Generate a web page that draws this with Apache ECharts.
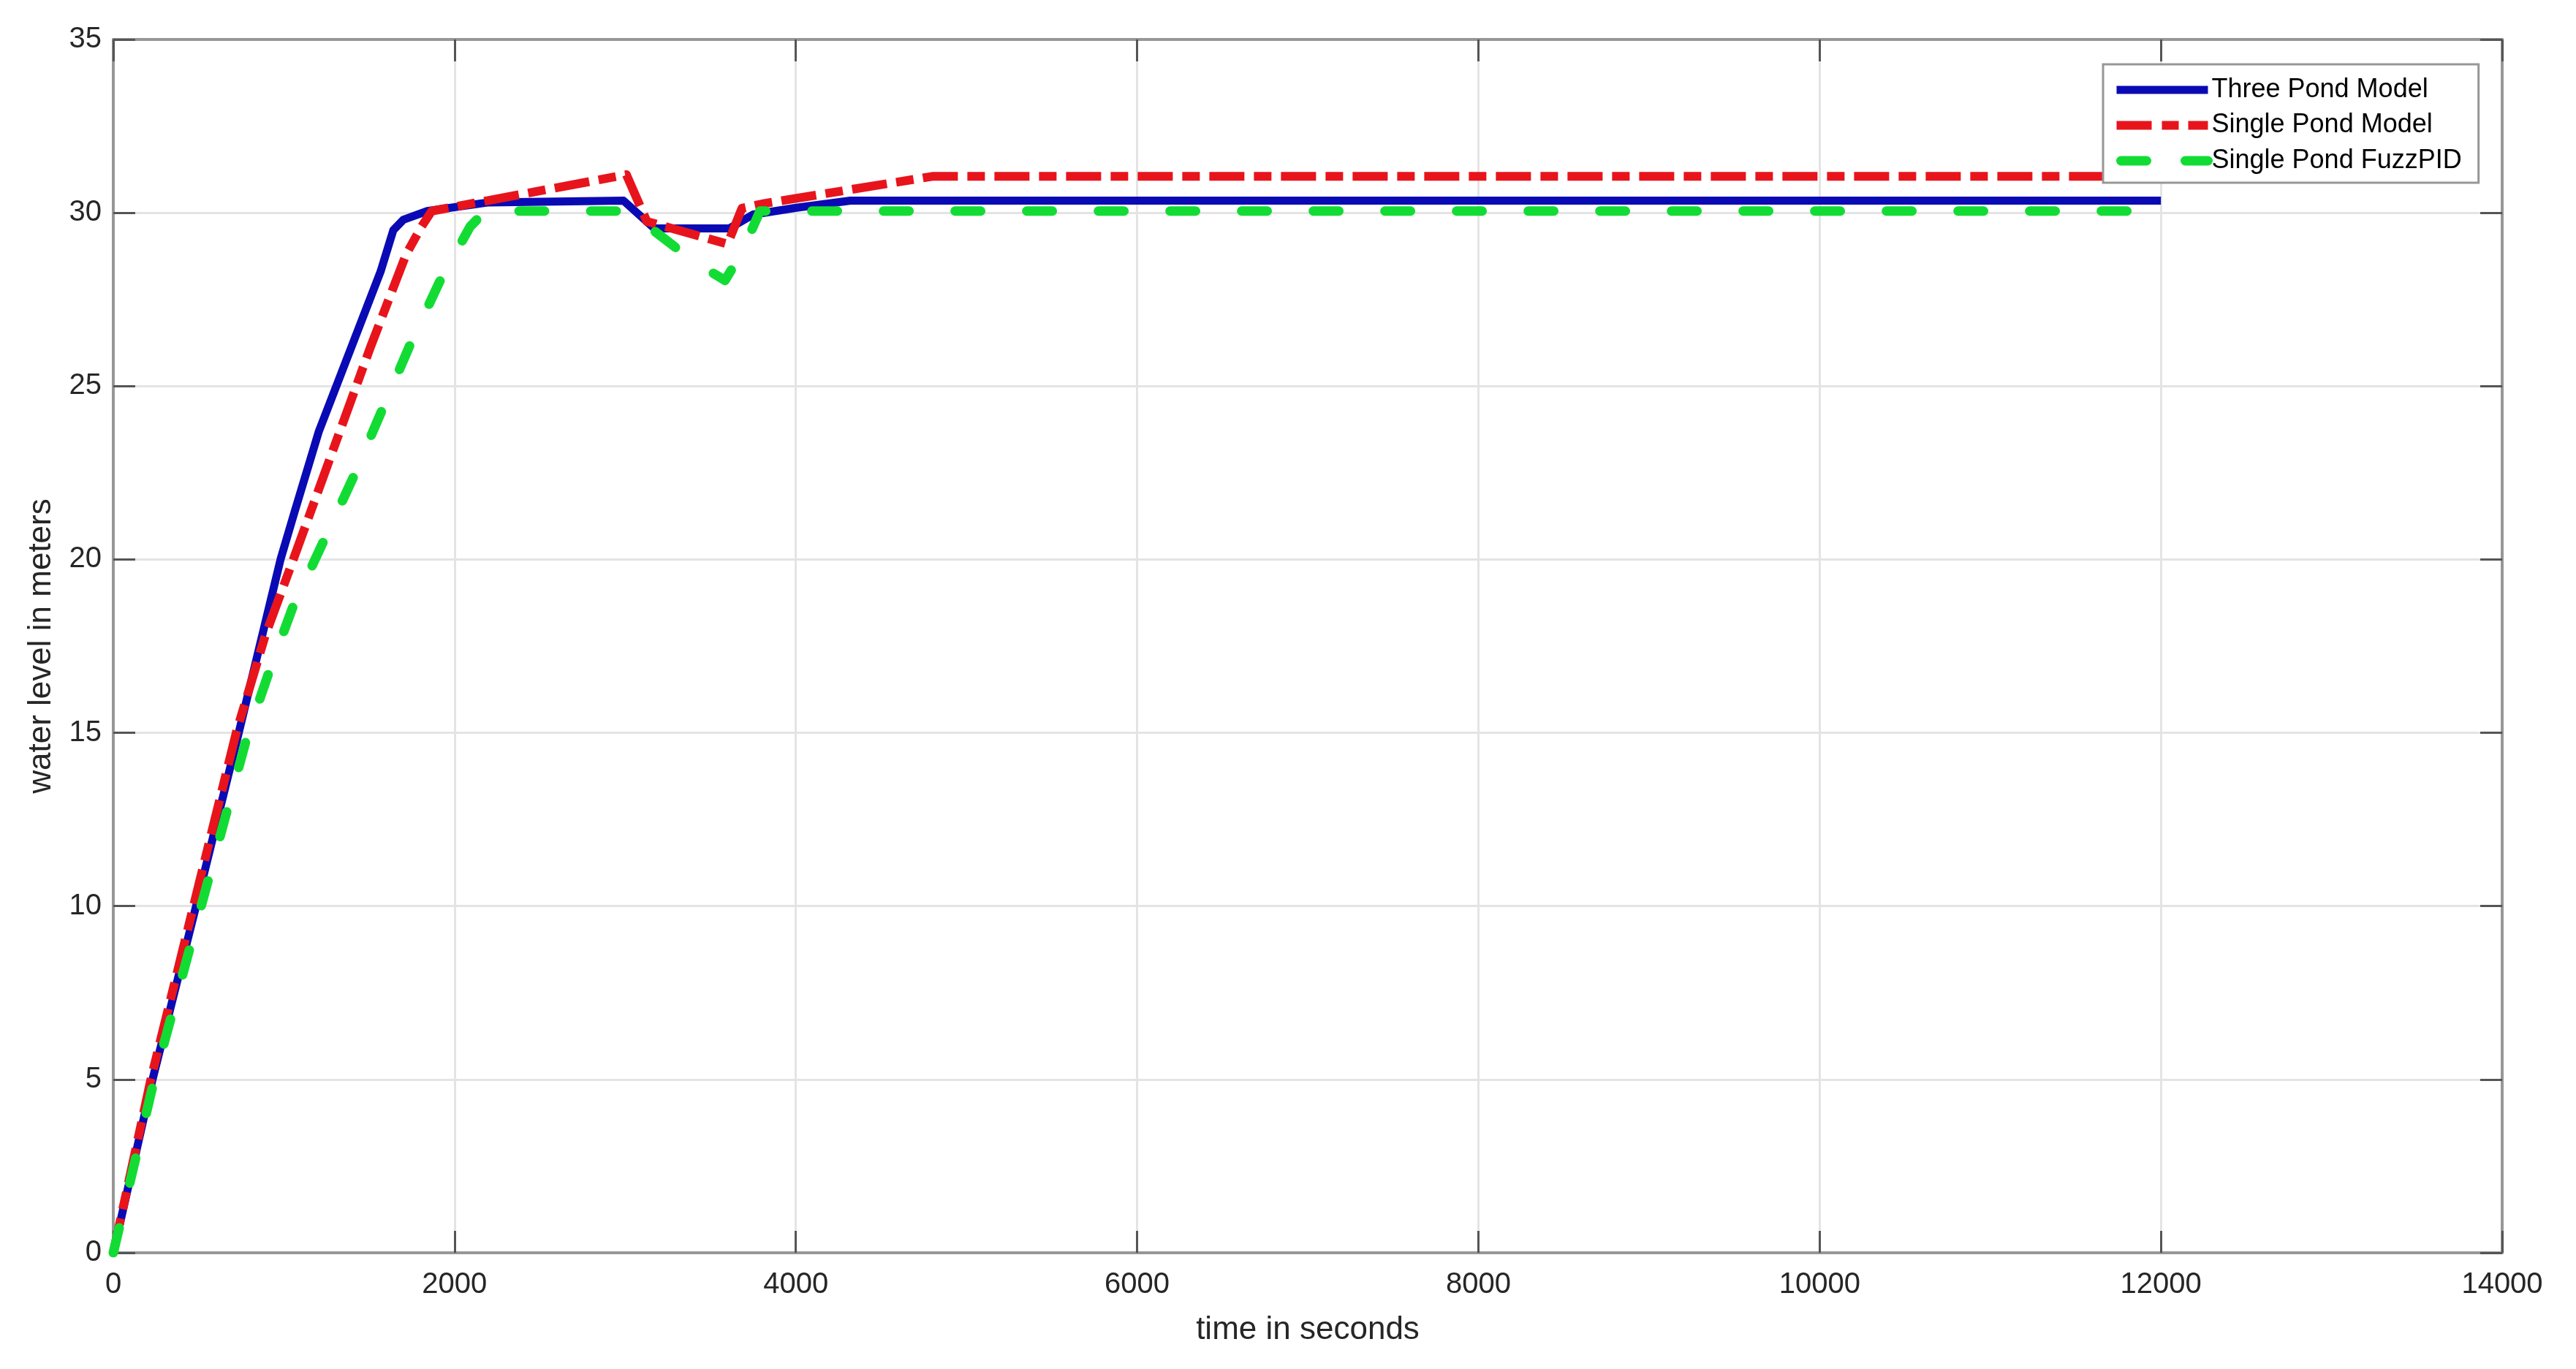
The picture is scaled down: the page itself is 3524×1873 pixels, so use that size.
<!DOCTYPE html>
<html>
<head>
<meta charset="utf-8">
<script src="https://cdn.jsdelivr.net/npm/echarts@6/dist/echarts.min.js"></script>
<style>
html,body{margin:0;padding:0;background:#fff;}
#chart{width:3524px;height:1873px;}
</style>
</head>
<body>
<div id="chart"></div>
<script>
// ---- data ----
const seriesNames = ['Three Pond Model', 'Single Pond Model', 'Single Pond FuzzPID'];

const blueX = [0, 230, 485, 735, 980, 1064, 1205, 1566, 1641, 1700, 1840, 2200, 2990, 3170, 3610, 3750, 4010, 4320, 12000];
const blueY = [0, 5, 10, 15, 20, 21.4, 23.7, 28.3, 29.5, 29.8, 30.05, 30.3, 30.35, 29.55, 29.55, 29.95, 30.15, 30.35, 30.35];

const redX = [0, 220, 470, 720, 890, 1055, 1505, 1716, 1806, 1866, 3007, 3127, 3600, 3684, 3816, 4800, 12000];
const redY = [0, 5, 10, 15, 17.8, 20, 26.1, 28.8, 29.6, 30.05, 31.1, 29.75, 29.1, 30.13, 30.27, 31.05, 31.05];

const greenX = [0, 240, 515, 790, 930, 1050, 1400, 1731, 1911, 2091, 2180, 3020, 3400, 3585, 3684, 3790, 12000];
const greenY = [0, 5, 10, 15, 17, 18.6, 22.3, 26.1, 28, 29.6, 30.05, 30.05, 28.6, 28.05, 28.86, 30.05, 30.05];

const xTicks = {min: 0, max: 14000, interval: 2000};
const yTicks = {min: 0, max: 35, interval: 5};

const xName = 'time in seconds';
const yName = 'water level in meters';

// ---- build ----
function pairs(xs, ys) { return xs.map((x, i) => [x, ys[i]]); }

const FONT = "'Liberation Sans', Arial, Helvetica, sans-serif";
const axisLineStyle = {color: '#979797', width: 4};
const tickStyle = {show: true, inside: true, length: 30, lineStyle: {color: '#555555', width: 3}};

const colors = ['#0a0ab4', '#e8141c', '#12dc34'];
const styles = [
  {color: colors[0], width: 11, type: 'solid', cap: 'butt', join: 'round'},
  {color: colors[1], width: 12, type: [48, 13, 24, 13], cap: 'butt', join: 'round'},
  {color: colors[2], width: 13, type: [35, 63], cap: 'round', join: 'round'}
];
const legendStyles = [
  {color: colors[0], width: 11, type: 'solid', cap: 'butt'},
  {color: colors[1], width: 12, type: [48, 14, 23, 13], cap: 'butt'},
  {color: colors[2], width: 13, type: [35, 53], cap: 'round', dashOffset: -6}
];

const chart = echarts.init(document.getElementById('chart'), null, {renderer: 'canvas'});

const option = {
  animation: false,
  backgroundColor: '#ffffff',
  grid: {left: 155, right: 101, top: 54, bottom: 159, containLabel: false},
  legend: {
    orient: 'vertical',
    left: 2877,
    top: 88,
    padding: [15, 23, 10, 12],
    itemGap: 8.5,
    itemWidth: 125,
    itemHeight: 14,
    backgroundColor: '#ffffff',
    borderColor: '#979797',
    borderWidth: 3,
    borderRadius: 0,
    itemStyle: {opacity: 0},
    textStyle: {fontSize: 36, fontFamily: FONT, color: '#000000', lineHeight: 40},
    data: seriesNames.map((n, i) => ({name: n, lineStyle: legendStyles[i], itemStyle: {opacity: 0}}))
  },
  xAxis: [
    {
      type: 'value', position: 'bottom',
      min: xTicks.min, max: xTicks.max, interval: xTicks.interval,
      axisLine: {show: true, onZero: false, lineStyle: axisLineStyle},
      axisTick: tickStyle,
      axisLabel: {fontSize: 40, fontFamily: FONT, color: '#262626', margin: 24, formatter: v => String(v)},
      splitLine: {show: true, lineStyle: {color: '#e4e4e4', width: 3}},
      name: xName, nameLocation: 'middle', nameGap: 84,
      nameTextStyle: {fontSize: 44, fontFamily: FONT, color: '#262626'}
    },
    {
      type: 'value', position: 'top',
      min: xTicks.min, max: xTicks.max, interval: xTicks.interval,
      axisLine: {show: true, onZero: false, lineStyle: axisLineStyle},
      axisTick: tickStyle,
      axisLabel: {show: false},
      splitLine: {show: false}
    }
  ],
  yAxis: [
    {
      type: 'value', position: 'left',
      min: yTicks.min, max: yTicks.max, interval: yTicks.interval,
      axisLine: {show: true, onZero: false, lineStyle: axisLineStyle},
      axisTick: tickStyle,
      axisLabel: {fontSize: 40, fontFamily: FONT, color: '#262626', margin: 16, formatter: v => String(v)},
      splitLine: {show: true, lineStyle: {color: '#e4e4e4', width: 3}},
      name: yName, nameLocation: 'middle', nameGap: 76,
      nameTextStyle: {fontSize: 44, fontFamily: FONT, color: '#262626'}
    },
    {
      type: 'value', position: 'right',
      min: yTicks.min, max: yTicks.max, interval: yTicks.interval,
      axisLine: {show: true, onZero: false, lineStyle: axisLineStyle},
      axisTick: tickStyle,
      axisLabel: {show: false},
      splitLine: {show: false}
    }
  ],
  series: [
    {
      name: seriesNames[0], type: 'line', xAxisIndex: 0, yAxisIndex: 0,
      data: pairs(blueX, blueY), symbol: 'none', smooth: false,
      lineStyle: styles[0], itemStyle: {color: colors[0]}, z: 2
    },
    {
      name: seriesNames[1], type: 'line', xAxisIndex: 0, yAxisIndex: 0,
      data: pairs(redX, redY), symbol: 'none', smooth: false,
      lineStyle: styles[1], itemStyle: {color: colors[1]}, z: 3
    },
    {
      name: seriesNames[2], type: 'line', xAxisIndex: 0, yAxisIndex: 0,
      data: pairs(greenX, greenY), symbol: 'none', smooth: false,
      lineStyle: styles[2], itemStyle: {color: colors[2]}, z: 4
    }
  ]
};
chart.setOption(option);
</script>
</body>
</html>
